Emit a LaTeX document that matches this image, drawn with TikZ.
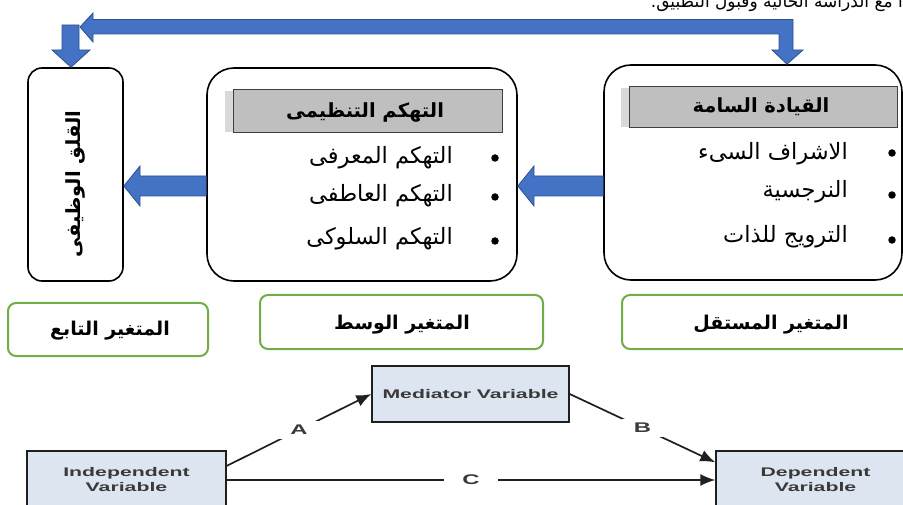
\documentclass[tikz,border=0pt]{standalone}
\usepackage{fontspec}
\usepackage{graphicx}
\usetikzlibrary{arrows.meta}
\TeXXeTstate=1
\newfontfamily\arabicfont[Script=Arabic]{DejaVu Sans}
\newfontfamily\engfont{Liberation Sans}
\definecolor{arrowblue}{HTML}{4472C4}
\definecolor{arrowedge}{HTML}{2F528F}
\definecolor{boxgreen}{HTML}{70AD47}
\definecolor{headgray}{HTML}{BFBFBF}
\definecolor{shadowgray}{HTML}{D9D9D9}
\definecolor{medfill}{HTML}{DDE5F1}
\definecolor{medtext}{HTML}{3A3A3A}
\definecolor{medline}{HTML}{1F1F1F}
\newcommand{\artxt}[1]{\beginR #1\endR}
\newcommand{\widetxt}[1]{\scalebox{1.7}[1]{#1}}
\begin{document}
\begin{tikzpicture}[x=1pt,y=-1pt,
  bigbox/.style={draw=black, line width=1.6pt, inner sep=0pt},
  headbox/.style={draw=black!75, fill=headgray, line width=1pt, inner sep=0pt},
  headshadow/.style={fill=shadowgray, draw=none, inner sep=0pt},
  greenbox/.style={draw=boxgreen, line width=2pt, rounded corners=8pt, inner sep=0pt},
  blockarrow/.style={fill=arrowblue, draw=arrowedge, line width=0.8pt},
  bullettxt/.style={font=\arabicfont\fontsize{22.5}{26}\selectfont, anchor=east, inner sep=0pt},
  headtxt/.style={font=\arabicfont\bfseries\fontsize{19.5}{23}\selectfont, inner sep=0pt},
  greentxt/.style={font=\arabicfont\bfseries\fontsize{19}{22}\selectfont, inner sep=0pt},
  dot/.style={circle, fill=black, inner sep=0pt, minimum size=7.5pt},
  medbox/.style={draw=medline, fill=medfill, line width=1.4pt, inner sep=0pt,
    font=\engfont\bfseries\fontsize{12.5}{16}\selectfont, text=medtext, align=center},
  medarrow/.style={draw=medline, line width=1.7pt, -{Latex[length=15pt,width=12pt]}},
  medlabel/.style={fill=white, font=\engfont\bfseries\fontsize{14}{16}\selectfont, text=medtext}
]
\useasboundingbox (0,0) rectangle (903,505);
\clip (0,0) rectangle (903,505);

% cut-off line of text at top
\node[font=\arabicfont\fontsize{17}{20}\selectfont, anchor=base east, inner sep=0pt] (toptext) at (903,8)
  {\artxt{ا مع الدراسة الحالية وقبول التطبيق.}};

% main boxes
\node[bigbox, rounded corners=14pt, minimum width=95pt, minimum height=213pt] (depbox) at (75.5,174.5) {};
\node[bigbox, rounded corners=27pt, minimum width=310pt, minimum height=213pt] (medbox) at (362,174.5) {};
\node[bigbox, rounded corners=27pt, minimum width=298pt, minimum height=215pt] (indbox) at (753,172.5) {};

% rotated label in dependent box
\node[headtxt, rotate=90] (deptxt) at (75,184) {\artxt{القلق الوظيفى}};

% headers
\node[headshadow, minimum width=270pt, minimum height=41pt] (medshadow) at (360,111.5) {};
\node[headbox, minimum width=269pt, minimum height=43pt] (medhead) at (367.5,111.5) {};
\node[headtxt] (medheadtxt) at (365,112) {\artxt{التهكم التنظيمى}};

\node[headshadow, minimum width=269pt, minimum height=39pt] (indshadow) at (755.5,107.5) {};
\node[headbox, minimum width=268pt, minimum height=41pt] (indhead) at (763,107.5) {};
\node[headtxt] (indheadtxt) at (761,107) {\artxt{القيادة السامة}};

% bullets, mediator
\node[bullettxt] (m1) at (453,158) {\artxt{التهكم المعرفى}};
\node[bullettxt] (m2) at (453,196) {\artxt{التهكم العاطفى}};
\node[bullettxt] (m3) at (453,239) {\artxt{التهكم السلوكى}};
\node[dot] (md1) at (495,158) {};
\node[dot] (md2) at (495,197) {};
\node[dot] (md3) at (495,241) {};

% bullets, independent
\node[bullettxt] (i1) at (848,154) {\artxt{الاشراف السىء}};
\node[bullettxt] (i2) at (848,192) {\artxt{النرجسية}};
\node[bullettxt] (i3) at (848,237) {\artxt{الترويج للذات}};
\node[dot] (id1) at (892,153) {};
\node[dot] (id2) at (892,195) {};
\node[dot] (id3) at (892,240) {};

% block arrows between boxes
\draw[blockarrow] (indbox.west |- 0,176) -- (534,176) -- (534,166) -- (medbox.east |- 0,186)
  -- (534,206) -- (534,196) -- (indbox.west |- 0,196) -- cycle;
\draw[blockarrow] (medbox.west |- 0,176) -- (140,176) -- (140,166) -- (depbox.east |- 0,186)
  -- (140,206) -- (140,196) -- (medbox.west |- 0,196) -- cycle;

% top arrows
\draw[blockarrow] (62,25) -- (79,25) -- (79,50) -- (90,50) -- (depbox.north -| 71,0) -- (52,50) -- (62,50) -- cycle;
\draw[blockarrow] (80,27) -- (93,13) -- (93,19.5) -- (793,19.5) -- (793,50) -- (803,50)
  -- (indbox.north -| 787,0) -- (772,50) -- (779,50) -- (779,34) -- (93,34) -- (93,42) -- cycle;

% green labels
\node[greenbox, minimum width=200pt, minimum height=53pt] (gdep) at (108,329.5) {};
\node[greentxt] (gdeptxt) at (110,331) {\artxt{المتغير التابع}};
\node[greenbox, minimum width=283pt, minimum height=54pt] (gmed) at (401.5,322) {};
\node[greentxt] (gmedtxt) at (402,325) {\artxt{المتغير الوسط}};
\node[greenbox, minimum width=290pt, minimum height=54pt] (gind) at (767,322) {};
\node[greentxt] (gindtxt) at (771,325) {\artxt{المتغير المستقل}};

% mediation model
\node[medbox, minimum width=197pt, minimum height=56pt] (medv) at (470.5,394) {\widetxt{Mediator Variable}};
\node[medbox, minimum width=199pt, minimum height=58pt] (indv) at (126.5,480) {\widetxt{Independent}\\[-1pt]\widetxt{Variable}};
\node[medbox, minimum width=199pt, minimum height=58pt] (depv) at (815.5,480) {\widetxt{Dependent}\\[-1pt]\widetxt{Variable}};

\draw[medarrow] (indv.8.6) -- node[medlabel, inner xsep=12pt, inner ysep=4pt] {\widetxt{A}} (medv.west);
\draw[medarrow] (medv.east) -- node[medlabel, inner xsep=12pt, inner ysep=4pt] {\widetxt{B}} (depv.170);
\draw[medarrow] (indv.east) -- node[medlabel, inner xsep=18pt, inner ysep=3pt] {\widetxt{C}} (depv.west);
\end{tikzpicture}
\end{document}
